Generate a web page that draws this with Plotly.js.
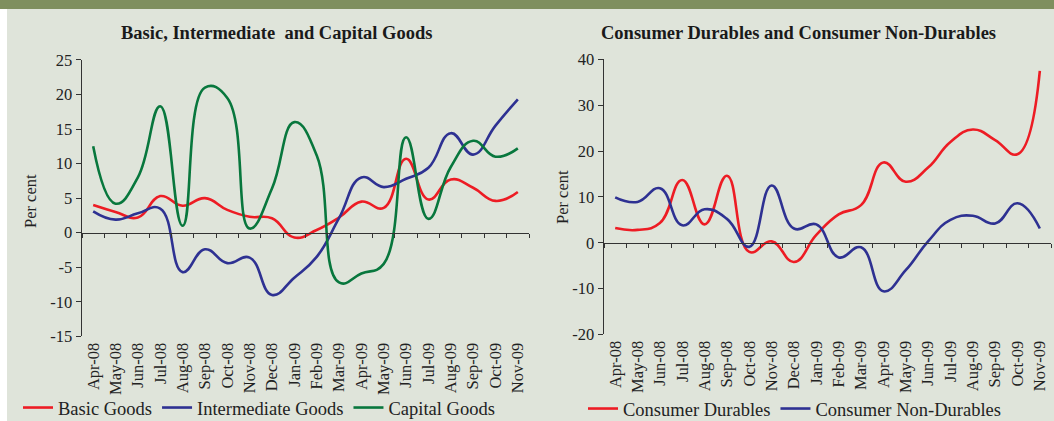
<!DOCTYPE html>
<html>
<head>
<meta charset="utf-8">
<script src="https://cdn.plot.ly/plotly-3.0.1.min.js"></script>
<style>
  html, body { margin: 0; padding: 0; background: #dfe4da; }
  #chart { width: 1054px; height: 421px; }
</style>
</head>
<body>
<div id="chart"></div>
<script>
// ---- Data (year-on-year growth, per cent) ----
const months = ['Apr-08','May-08','Jun-08','Jul-08','Aug-08','Sep-08','Oct-08','Nov-08','Dec-08','Jan-09',
                'Feb-09','Mar-09','Apr-09','May-09','Jun-09','Jul-09','Aug-09','Sep-09','Oct-09','Nov-09'];

const basicGoods        = [4.0, 3.0, 2.2, 5.3, 3.9, 5.0, 3.3, 2.3, 2.1, -0.7, 0.4, 2.2, 4.5, 3.6, 10.7, 4.8, 7.7, 6.5, 4.6, 5.9];
const intermediateGoods = [3.1, 1.9, 2.8, 3.5, -5.7, -2.4, -4.4, -3.6, -9.0, -6.5, -3.5, 2.1, 8.0, 6.6, 7.8, 9.4, 14.4, 11.3, 15.5, 19.3];
const capitalGoods      = [12.5, 4.2, 8.0, 18.3, 1.0, 21.0, 19.5, 0.6, 6.4, 16.0, 11.2, -7.2, -5.9, -4.5, 13.8, 2.0, 9.5, 13.3, 11.0, 12.2];

const consumerDurables    = [3.2, 2.8, 4.3, 13.7, 4.0, 14.6, -2.0, 0.3, -4.2, 1.7, 6.2, 8.2, 17.5, 13.3, 16.4, 22.0, 24.7, 22.4, 19.3, 37.5];
const consumerNonDurables = [9.9, 8.9, 11.9, 3.8, 7.3, 5.2, -0.9, 12.5, 3.1, 4.0, -3.2, -1.0, -10.6, -6.0, 0.3, 5.0, 5.9, 4.2, 8.6, 3.1];

const leftTicks  = [-15, -10, -5, 0, 5, 10, 15, 20, 25];
const rightTicks = [-20, -10, 0, 10, 20, 30, 40];

// ---- Styling ----
const W = 1054, H = 421;
const SERIF = '"Liberation Serif", "DejaVu Serif", serif';
const RED = '#ed1c24', BLUE = '#2e3192', GREEN = '#08773d';
const AX = '#333333';
const px = v => v / W;
const py = v => 1 - v / H;

function line(name, y, color, xa, ya, legend) {
  return {
    type: 'scatter', mode: 'lines', name: name, x: months, y: y,
    xaxis: xa, yaxis: ya, legend: legend,
    line: { color: color, width: 2.6, shape: 'spline', smoothing: 1.3 },
    hoverinfo: 'x+y+name'
  };
}

const data = [
  line('Basic Goods', basicGoods, RED, 'x', 'y', 'legend'),
  line('Intermediate Goods', intermediateGoods, BLUE, 'x', 'y', 'legend'),
  line('Capital Goods', capitalGoods, GREEN, 'x', 'y', 'legend'),
  line('Consumer Durables', consumerDurables, RED, 'x2', 'y2', 'legend2'),
  line('Consumer Non-Durables', consumerNonDurables, BLUE, 'x2', 'y2', 'legend2')
];

function xAxis(domain, zeroPos, standoff) {
  return {
    type: 'category', domain: domain, anchor: 'free', position: zeroPos,
    range: [-0.5, months.length - 0.5], fixedrange: true,
    showline: true, linecolor: AX, linewidth: 1.5,
    ticks: 'outside', tickson: 'boundaries', ticklen: 4, tickwidth: 1, tickcolor: AX,
    tickangle: -90, ticklabelstandoff: standoff,
    tickfont: { family: SERIF, size: 16.5, color: '#222' },
    showgrid: false, zeroline: false
  };
}
function yAxis(domain, anchor, range, ticks) {
  return {
    domain: domain, anchor: anchor, range: range, fixedrange: true,
    tickmode: 'array', tickvals: ticks, ticktext: ticks.map(String),
    showline: true, linecolor: AX, linewidth: 1.5,
    ticks: 'outside', ticklen: 5, tickwidth: 1, tickcolor: AX,
    tickfont: { family: SERIF, size: 16.5, color: '#222' },
    showgrid: false, zeroline: false
  };
}

const legendFont = { family: SERIF, size: 18.5, color: '#222' };

const layout = {
  width: W, height: H,
  margin: { l: 0, r: 0, t: 0, b: 0, pad: 0, autoexpand: false },
  paper_bgcolor: '#dfe4da', plot_bgcolor: 'rgba(0,0,0,0)',
  showlegend: true,
  xaxis:  xAxis([px(82), px(529)], py(232.7), 102),
  yaxis:  yAxis([py(336.4), py(59.9)], 'x', [-15, 25], leftTicks),
  xaxis2: xAxis([px(604), px(1051)], py(242.7), 90),
  yaxis2: yAxis([py(334.4), py(59.4)], 'x2', [-20, 40], rightTicks),
  legend: {
    orientation: 'h', x: px(18), y: py(408), xanchor: 'left', yanchor: 'middle',
    bgcolor: 'rgba(0,0,0,0)', font: legendFont, itemwidth: 30, tracegroupgap: 0
  },
  legend2: {
    orientation: 'h', x: px(583), y: py(409), xanchor: 'left', yanchor: 'middle',
    bgcolor: 'rgba(0,0,0,0)', font: legendFont, itemwidth: 30, tracegroupgap: 0
  },
  shapes: [
    { type: 'rect', xref: 'paper', yref: 'paper', x0: 0, x1: 1, y0: py(9), y1: 1,
      fillcolor: '#7f8f5f', line: { width: 0 }, layer: 'below' },
    { type: 'rect', xref: 'paper', yref: 'paper', x0: 0, x1: px(7), y0: 0, y1: py(9),
      fillcolor: '#ffffff', line: { width: 0 }, layer: 'below' }
  ],
  annotations: [
    { text: 'Basic, Intermediate&nbsp; and Capital Goods', xref: 'paper', yref: 'paper',
      x: px(276), y: py(33), xanchor: 'center', yanchor: 'middle', showarrow: false,
      font: { family: SERIF, size: 18.5, color: '#1a1a1a', weight: 'bold' } },
    { text: 'Consumer Durables and Consumer Non-Durables', xref: 'paper', yref: 'paper',
      x: px(798), y: py(33), xanchor: 'center', yanchor: 'middle', showarrow: false,
      font: { family: SERIF, size: 18.5, color: '#1a1a1a', weight: 'bold' } },
    { text: 'Per cent', xref: 'paper', yref: 'paper', x: px(30), y: py(201),
      xanchor: 'center', yanchor: 'middle', textangle: -90, showarrow: false,
      font: { family: SERIF, size: 16.5, color: '#222' } },
    { text: 'Per cent', xref: 'paper', yref: 'paper', x: px(562), y: py(197),
      xanchor: 'center', yanchor: 'middle', textangle: -90, showarrow: false,
      font: { family: SERIF, size: 16.5, color: '#222' } }
  ]
};

Plotly.newPlot('chart', data, layout, { displayModeBar: false, staticPlot: true });
</script>
</body>
</html>
